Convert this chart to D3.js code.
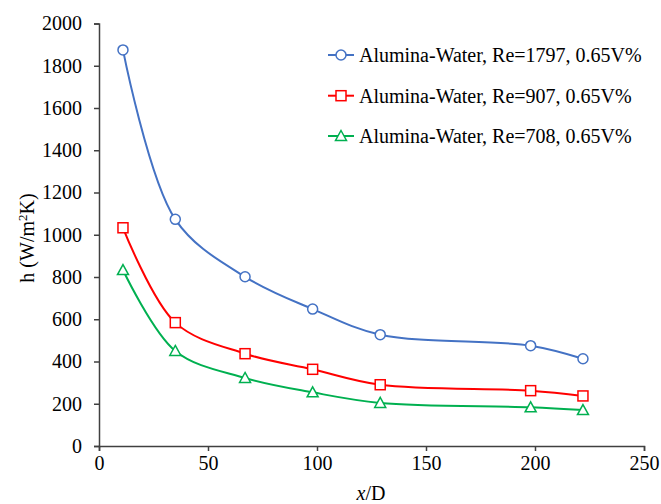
<!DOCTYPE html>
<html>
<head>
<meta charset="utf-8">
<script src="https://cdn.jsdelivr.net/npm/d3@7"></script>
<style>
  body { margin: 0; background: #fff; }
</style>
</head>
<body>
<svg id="chart" width="661" height="504" style="font-family: 'Liberation Serif', serif;"></svg>
<script>
const xValues = [11, 35, 67, 98, 129, 198, 222];
const re1797 = [1875, 1073, 801, 648, 527, 475, 413];
const re907 = [1033, 584, 437, 363, 290, 262, 237];
const re708 = [833, 450, 322, 254, 204, 183, 170];
const seriesNames = [
  "Alumina-Water, Re=1797, 0.65V%",
  "Alumina-Water, Re=907, 0.65V%",
  "Alumina-Water, Re=708, 0.65V%"
];
const xTicks = [0, 50, 100, 150, 200, 250];
const yTicks = [0, 200, 400, 600, 800, 1000, 1200, 1400, 1600, 1800, 2000];

const series = [
  { name: seriesNames[0], values: re1797, color: "#4472C4", marker: "circle" },
  { name: seriesNames[1], values: re907, color: "#FF0000", marker: "square" },
  { name: seriesNames[2], values: re708, color: "#00B050", marker: "triangle" }
];

const font = "'Liberation Serif', serif";
const svg = d3.select("#chart");
const axisColor = "#404040";

const x = d3.scaleLinear().domain([0, 250]).range([99, 644]);
const y = d3.scaleLinear().domain([0, 2000]).range([446, 23.5]);

// axes
const xAxis = svg.append("g")
  .attr("transform", "translate(0," + y(0) + ")")
  .call(d3.axisBottom(x).tickValues(xTicks).tickFormat(d3.format("d")).tickSize(5).tickPadding(5));
const yAxis = svg.append("g")
  .attr("transform", "translate(" + x(0) + ",0)")
  .call(d3.axisLeft(y).tickValues(yTicks).tickFormat(d3.format("d")).tickSize(5).tickPadding(12));

[xAxis, yAxis].forEach(function(a) {
  a.attr("font-family", null).attr("font-size", null);
  a.select(".domain").attr("stroke", axisColor).attr("stroke-width", 1.5);
  a.selectAll(".tick line").attr("stroke", axisColor).attr("stroke-width", 1.5);
  a.selectAll(".tick text")
    .style("font-family", font)
    .style("font-size", "20px")
    .attr("fill", "#000");
});

// axis titles
svg.append("text")
  .attr("transform", "translate(34,238) rotate(-90)")
  .attr("text-anchor", "middle")
  .style("font-family", font)
  .style("font-size", "20px")
  .html("h (W/m<tspan dy='-7' font-size='13px'>2</tspan><tspan dy='7'>K)</tspan>");

const xTitle = svg.append("text")
  .attr("x", 371)
  .attr("y", 500)
  .attr("text-anchor", "middle")
  .style("font-family", font)
  .style("font-size", "20px");
xTitle.append("tspan").style("font-style", "italic").text("x");
xTitle.append("tspan").text("/D");

// lines
const line = d3.line()
  .x(function(d) { return x(d[0]); })
  .y(function(d) { return y(d[1]); })
  .curve(d3.curveCatmullRom.alpha(0.5));

function drawMarker(g, type, color) {
  if (type === "circle") {
    g.append("circle").attr("r", 5)
      .attr("fill", "#fff").attr("stroke", color).attr("stroke-width", 1.5);
  } else if (type === "square") {
    g.append("rect").attr("x", -5).attr("y", -5).attr("width", 10).attr("height", 10)
      .attr("fill", "#fff").attr("stroke", color).attr("stroke-width", 1.5);
  } else {
    g.append("path").attr("d", "M0,-5.5L5.5,4.5L-5.5,4.5Z")
      .attr("fill", "#fff").attr("stroke", color).attr("stroke-width", 1.5);
  }
}

series.forEach(function(s) {
  const pts = xValues.map(function(xv, i) { return [xv, s.values[i]]; });
  svg.append("path")
    .datum(pts)
    .attr("fill", "none")
    .attr("stroke", s.color)
    .attr("stroke-width", 2)
    .attr("d", line);
  svg.append("g").selectAll("g")
    .data(pts)
    .join("g")
    .attr("transform", function(d) { return "translate(" + x(d[0]) + "," + y(d[1]) + ")"; })
    .each(function() { drawMarker(d3.select(this), s.marker, s.color); });
});

// legend
const legendRows = [55, 95.7, 136];
series.forEach(function(s, i) {
  const g = svg.append("g").attr("transform", "translate(0," + legendRows[i] + ")");
  g.append("line").attr("x1", 328).attr("x2", 354).attr("y1", 0).attr("y2", 0)
    .attr("stroke", s.color).attr("stroke-width", 2);
  const m = g.append("g").attr("transform", "translate(341,0)");
  drawMarker(m, s.marker, s.color);
  g.append("text").attr("x", 359).attr("y", 7)
    .style("font-family", font)
    .style("font-size", "20px")
    .text(s.name);
});
</script>
</body>
</html>
